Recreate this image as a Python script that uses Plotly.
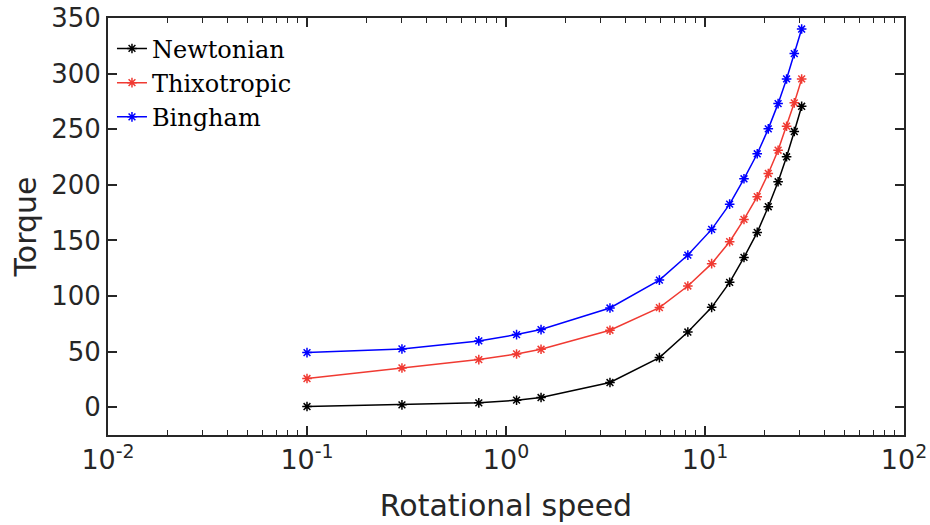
import plotly.graph_objects as go

speed = [0.1, 0.3, 0.73, 1.13, 1.5, 3.33, 5.9, 8.2, 10.8, 13.3, 15.7, 18.3, 20.8, 23.3, 25.7, 28.1, 30.6]
newtonian = [0.6, 2.1, 3.9, 6.3, 8.7, 22.2, 44.6, 67.6, 89.8, 112.3, 134.7, 157.2, 180.3, 202.7, 225.2, 247.9, 270.6]
thixotropic = [25.8, 35.3, 42.8, 47.9, 52.1, 69.2, 89.6, 109.0, 129.1, 148.8, 168.9, 189.3, 210.2, 231.1, 252.7, 273.7, 295.2]
bingham = [49.1, 52.4, 59.6, 65.3, 69.8, 89.2, 114.3, 136.8, 159.9, 182.6, 205.4, 227.9, 250.3, 273.0, 295.2, 318.0, 340.1]

x_tickvals = [0.01, 0.1, 1, 10, 100]
x_ticktext = ["10<sup>-2</sup>", "10<sup>-1</sup>", "10<sup>0</sup>", "10<sup>1</sup>", "10<sup>2</sup>"]

names = ["Newtonian", "Thixotropic", "Bingham"]
colors = ["#000000", "#f03a32", "#0000ff"]
series = [newtonian, thixotropic, bingham]

axis_color = "#262626"

fig = go.Figure()
for name, col, ys in zip(names, colors, series):
    fig.add_trace(go.Scatter(
        x=speed, y=ys, name=name, mode="lines+markers",
        line=dict(color=col, width=1.5),
        marker=dict(symbol="asterisk", size=8, color=col,
                    line=dict(color=col, width=1.5)),
    ))

fig.update_layout(
    width=930, height=525,
    margin=dict(l=108, r=26, t=18, b=90, autoexpand=False),
    plot_bgcolor="white", paper_bgcolor="white",
    showlegend=True,
    legend=dict(x=0.005, y=0.98, xanchor="left", yanchor="top",
                bgcolor="rgba(0,0,0,0)", borderwidth=0,
                font=dict(family="DejaVu Serif", size=24, color="#000000"),
                itemwidth=30, tracegroupgap=0),
    font=dict(family="DejaVu Sans", color=axis_color),
)

fig.update_xaxes(
    type="log", range=[-2.00001, 2.00001], automargin=False,
    tickmode="array", tickvals=x_tickvals, ticktext=x_ticktext,
    showline=True, linecolor=axis_color, linewidth=2, mirror="ticks",
    ticks="inside", ticklen=9, tickwidth=1.5, tickcolor=axis_color,
    showgrid=False, zeroline=False,
    tickfont=dict(family="DejaVu Sans", size=27, color=axis_color),
    minor=dict(ticks="inside", ticklen=5, tickwidth=1.2, tickcolor=axis_color, showgrid=False,
               tickmode="array",
               tickvals=[m * 10 ** e for e in (-2, -1, 0, 1) for m in range(2, 10)]),
    title=dict(text="Rotational speed", font=dict(family="DejaVu Sans", size=30, color=axis_color), standoff=21),
)
fig.update_yaxes(
    range=[-25, 350], dtick=50, tick0=0, automargin=False,
    showline=True, linecolor=axis_color, linewidth=2, mirror="ticks",
    ticks="inside", ticklen=9, tickwidth=1.5, tickcolor=axis_color,
    showgrid=False, zeroline=False,
    tickfont=dict(family="DejaVu Sans", size=26, color=axis_color),
    title=dict(text="Torque", font=dict(family="DejaVu Sans", size=30, color=axis_color), standoff=6),
)

fig.write_html("out.html")
